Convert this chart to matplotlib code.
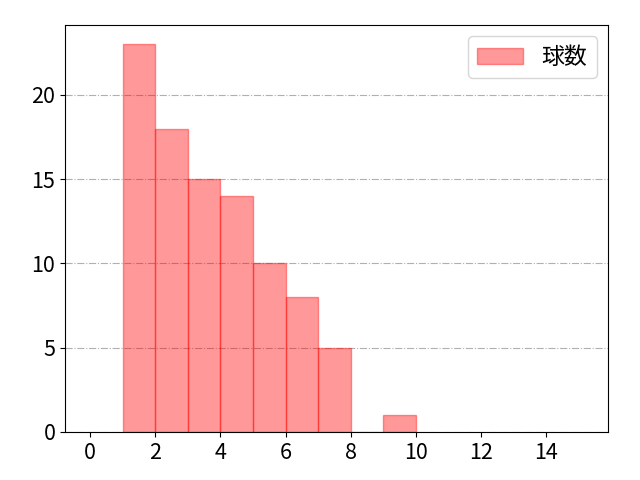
import matplotlib

matplotlib.use("Agg")
import matplotlib.pyplot as plt

plt.rcParams["font.family"] = ["Noto Sans CJK JP", "DejaVu Sans"]

bin_left = [1, 2, 3, 4, 5, 6, 7, 8, 9]
counts = [23, 18, 15, 14, 10, 8, 5, 0, 1]
label = "球数"

fig = plt.figure(figsize=(6.4, 4.8), dpi=100)
ax = fig.add_axes([0.1016, 0.1, 0.8484, 0.848])
ax.bar(bin_left, counts, width=1, align="edge", color="red", alpha=0.4,
       edgecolor="red", linewidth=1, label=label, zorder=2)
ax.set_xlim(-0.77, 15.9)
ax.set_xticks([0, 2, 4, 6, 8, 10, 12, 14])
ax.set_yticks([0, 5, 10, 15, 20])
ax.tick_params(labelsize=15.5)
ax.grid(axis="y", linestyle="-.", color="#b0b0b0", linewidth=0.8, zorder=0)
ax.legend(fontsize=16.5, loc="upper right")
fig.savefig("out.png")
